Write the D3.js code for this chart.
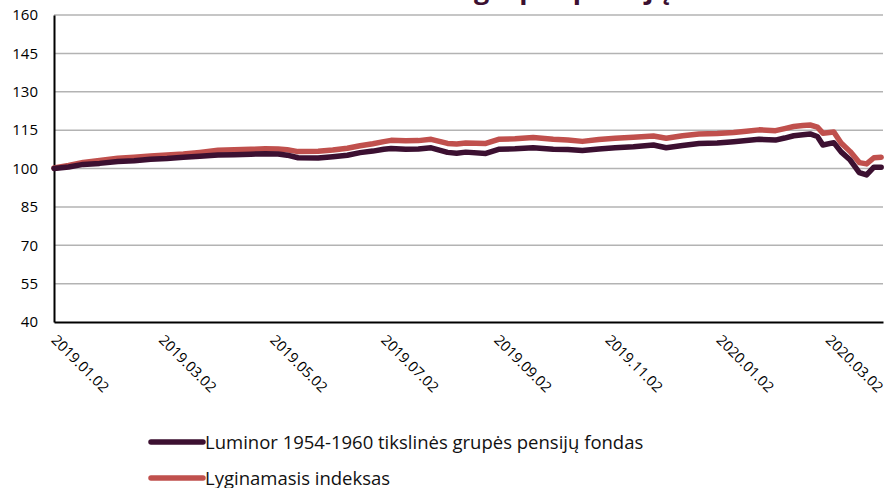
<!DOCTYPE html>
<html>
<head>
<meta charset="utf-8">
<script src="https://cdn.jsdelivr.net/npm/d3@7"></script>
<style>
  html, body { margin: 0; padding: 0; background: #fff; }
  svg { display: block; }
</style>
</head>
<body>
<svg id="chart" width="887" height="488"></svg>
<script>
// ---- data ----
const titleStart = "Luminor 1954-1960 tikslinės";
const titleEnd = "grupės pensijų fondas";
const seriesNames = ["Luminor 1954-1960 tikslinės grupės pensijų fondas", "Lyginamasis indeksas"];
const dates = [
  "2019-01-02","2019-01-10","2019-01-18","2019-01-27","2019-02-06","2019-02-15","2019-02-24",
  "2019-03-05","2019-03-14","2019-03-23","2019-04-02","2019-04-11","2019-04-20","2019-04-28",
  "2019-05-05","2019-05-10","2019-05-16","2019-05-27","2019-06-04","2019-06-12","2019-06-19",
  "2019-06-26","2019-07-02","2019-07-06","2019-07-14","2019-07-21","2019-07-28","2019-08-06",
  "2019-08-11","2019-08-16","2019-08-27","2019-09-03","2019-09-12","2019-09-22","2019-10-03",
  "2019-10-11","2019-10-19","2019-10-28","2019-11-06","2019-11-16","2019-11-27","2019-12-04",
  "2019-12-13","2019-12-22","2020-01-01","2020-01-10","2020-01-17","2020-01-24","2020-02-02",
  "2020-02-07","2020-02-12","2020-02-17","2020-02-21","2020-02-25","2020-02-28","2020-03-05",
  "2020-03-09","2020-03-14","2020-03-19","2020-03-23","2020-03-27","2020-03-31"
];
const fundValues = [
  100.0,100.6,101.6,102.0,102.7,103.0,103.6,
  103.9,104.4,104.8,105.3,105.4,105.6,105.8,
  105.7,105.2,104.2,104.1,104.6,105.2,106.2,
  106.8,107.5,107.8,107.5,107.6,108.1,106.3,
  106.0,106.4,105.9,107.5,107.7,108.1,107.5,
  107.4,107.0,107.6,108.1,108.5,109.2,108.1,
  109.0,109.8,110.0,110.5,110.9,111.4,111.1,
  111.9,112.8,113.2,113.5,112.5,109.2,110.1,
  106.5,103.3,98.4,97.5,100.5,100.5
];
const indexValues = [
  100.2,101.2,102.4,103.1,104.0,104.4,104.9,
  105.3,105.7,106.3,107.1,107.3,107.5,107.7,
  107.6,107.3,106.6,106.7,107.2,107.9,108.9,
  109.7,110.5,111.0,110.8,110.9,111.4,109.8,
  109.6,110.0,109.8,111.4,111.6,112.1,111.4,
  111.1,110.6,111.3,111.8,112.2,112.7,111.8,
  112.8,113.5,113.7,114.1,114.6,115.1,114.8,
  115.6,116.4,116.8,117.0,116.2,113.8,114.3,
  110.0,106.6,102.3,101.8,104.2,104.4
];
const yTicks = [40, 55, 70, 85, 100, 115, 130, 145, 160];
const xTickDates = ["2019-01-02","2019-03-02","2019-05-02","2019-07-02","2019-09-02","2019-11-02","2020-01-02","2020-03-02"];
const xDomain = ["2019-01-02", "2020-04-01"];
const colors = ["#3c1031", "#c0504d"];

// ---- layout ----
const svg = d3.select("#chart");
const margin = { left: 54, right: 4, top: 15, bottom: 166 };
const W = 887, H = 488;
const parse = d3.utcParse("%Y-%m-%d");
const fmt = d3.utcFormat("%Y.%m.%d");
const FONT = "'Open Sans', sans-serif";

const x = d3.scaleUtc().domain(xDomain.map(parse)).range([margin.left, W - margin.right]);
const y = d3.scaleLinear().domain([40, 160]).range([H - margin.bottom, margin.top]);

// title (mostly cut off at the top, as in the reference)
svg.append("text")
  .attr("x", 474).attr("y", -1)
  .attr("font-family", FONT).attr("font-weight", "bold").attr("font-size", 27)
  .attr("fill", "#3c1031")
  .text(titleEnd);
svg.append("text")
  .attr("x", 466).attr("y", -1).attr("text-anchor", "end")
  .attr("font-family", FONT).attr("font-weight", "bold").attr("font-size", 27)
  .attr("fill", "#3c1031")
  .text(titleStart);

// gridlines
svg.append("g")
  .selectAll("line").data(yTicks.filter(t => t > 40)).join("line")
  .attr("x1", margin.left).attr("x2", W - margin.right)
  .attr("y1", d => y(d)).attr("y2", d => y(d))
  .attr("stroke", "#b3b3b3").attr("stroke-width", 1.5);

// y axis
const yAxis = svg.append("g").attr("transform", `translate(${margin.left},0)`)
  .call(d3.axisLeft(y).tickValues(yTicks).tickSize(0).tickPadding(16).tickFormat(d3.format("d")));
yAxis.select(".domain").attr("stroke", "#000").attr("stroke-width", 2);
yAxis.selectAll("text").attr("font-family", FONT).attr("font-size", 15).attr("fill", "#000");

// x axis
const xAxis = svg.append("g").attr("transform", `translate(0,${y(40)})`)
  .call(d3.axisBottom(x).tickValues(xTickDates.map(parse)).tickSize(0).tickFormat(fmt));
xAxis.select(".domain").attr("stroke", "#000").attr("stroke-width", 2);
xAxis.selectAll("text")
  .attr("font-family", FONT).attr("font-size", 14.5).attr("fill", "#000")
  .attr("text-anchor", "start").attr("dy", null).attr("y", 0)
  .attr("transform", "translate(-4,19) rotate(45)");

// lines
const series = [fundValues, indexValues];
const line = d3.line().x((d, i) => x(parse(dates[i]))).y(d => y(d)).curve(d3.curveLinear);
[1, 0].forEach(k => {
  svg.append("path")
    .datum(series[k])
    .attr("d", line)
    .attr("fill", "none")
    .attr("stroke", colors[k])
    .attr("stroke-width", 5.5)
    .attr("stroke-linejoin", "round")
    .attr("stroke-linecap", "round");
});

// legend
const lg = svg.append("g");
seriesNames.forEach((name, i) => {
  const yy = 442 + i * 36;
  lg.append("line").attr("x1", 151).attr("x2", 203).attr("y1", yy).attr("y2", yy)
    .attr("stroke", colors[i]).attr("stroke-width", 5.5).attr("stroke-linecap", "round");
  lg.append("text").attr("x", 205).attr("y", yy + 6.5)
    .attr("font-family", FONT).attr("font-size", 18.5).attr("fill", "#111")
    .text(name);
});
</script>
</body>
</html>
